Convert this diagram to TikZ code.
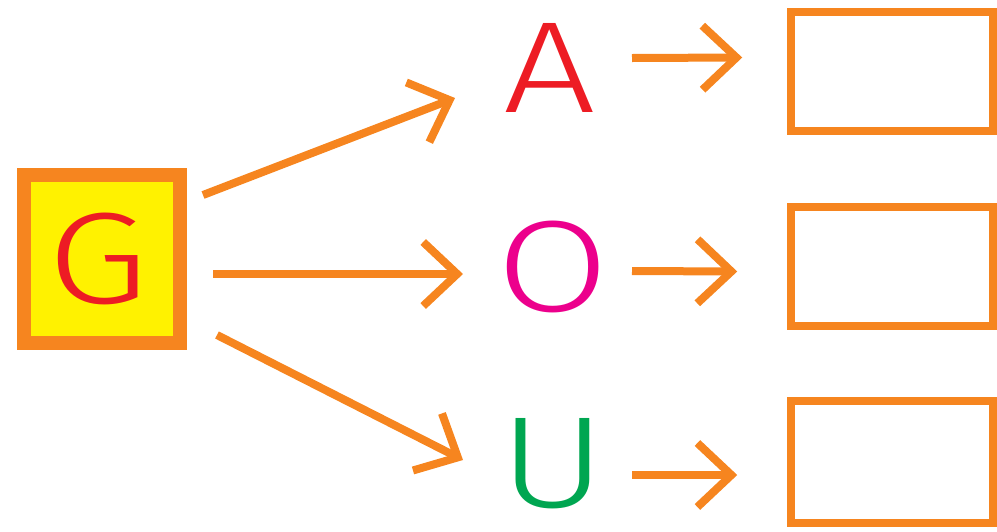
\documentclass[tikz,border=0pt]{standalone}
\usepackage{fontspec}
\setmainfont{Liberation Sans}
\IfFontExistsTF{Fira Sans Light}{\newfontfamily\ltrfont{Fira Sans Light}[FakeStretch=1.26]}{\newfontfamily\ltrfont{Liberation Sans}}
\usetikzlibrary{arrows.meta}
\definecolor{org}{HTML}{F6851F}
\definecolor{ylw}{HTML}{FFF200}
\definecolor{rd}{HTML}{ED1C24}
\definecolor{mg}{HTML}{EC008C}
\definecolor{gr}{HTML}{00A651}
\tikzset{
  letter/.style={inner sep=0pt, font=\ltrfont\fontsize{130}{130}\selectfont},
  gbox/.style={draw=org, fill=ylw, line width=14pt, minimum width=156pt, minimum height=168pt, inner sep=0pt, text=rd, font=\ltrfont\fontsize{130}{130}\selectfont},
  outbox/.style={draw=org, line width=7.5pt, minimum width=202pt, minimum height=119pt, inner sep=0pt},
  arr/.style={draw=org, line width=8pt, -{Straight Barb[length=34pt, width=64pt, line width=8pt]}},
}
\begin{document}
\begin{tikzpicture}[x=1pt, y=-1pt]
\useasboundingbox (0,0) rectangle (997,531);
\node[gbox] (G) at (102,259) {\hspace*{-8pt}G};
\node[letter, text=rd] (A) at (550,68) {A};
\node[letter, text=mg] (O) at (553,267) {O};
\node[letter, text=gr] (U) at (553,464) {U};
\node[outbox, minimum height=119pt] (B1) at (892,71.5) {};
\node[outbox, minimum height=119pt] (B2) at (892,266.5) {};
\node[outbox, minimum height=122pt] (B3) at (892,462) {};
\draw[arr] ([shift={(101,-64)}]G.center) -- ([shift={(-95,30)}]A.center);
\draw[arr] ([shift={(111,15)}]G.center) -- ([shift={(-90,7)}]O.center);
\draw[arr] ([shift={(115,76)}]G.center) -- ([shift={(-90,-4)}]U.center);
\draw[arr] ([shift={(82,-10)}]A.center) -- ([shift={(-45,-14)}]B1.west);
\draw[arr] ([shift={(79,4)}]O.center) -- ([shift={(-50,5)}]B2.west);
\draw[arr] ([shift={(79,11)}]U.center) -- ([shift={(-50,13)}]B3.west);
\end{tikzpicture}
\end{document}
